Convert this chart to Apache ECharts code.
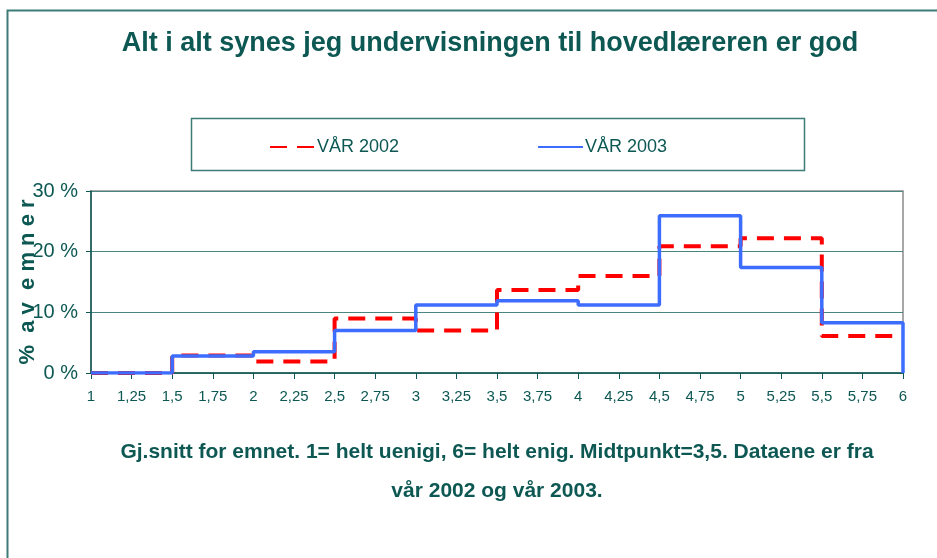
<!DOCTYPE html>
<html>
<head>
<meta charset="utf-8">
<script src="https://cdn.jsdelivr.net/npm/echarts@6/dist/echarts.min.js"></script>
<style>
  html, body { margin: 0; padding: 0; background: #fff; }
  #chart { width: 937px; height: 558px; }
</style>
</head>
<body>
<div id="chart"></div>
<script>
// bin starts (gjennomsnitt), each bin is 0,5 wide, last bin ends at 6
const binStarts = [1, 1.5, 2, 2.5, 3, 3.5, 4, 4.5, 5, 5.5];
const binEnd = 6;
// % av emner per bin
const vaar2002 = [0, 2.9, 1.9, 9.0, 7.0, 13.7, 16.0, 20.9, 22.2, 6.1];
const vaar2003 = [0, 2.8, 3.5, 7.0, 11.2, 11.9, 11.2, 25.9, 17.4, 8.3];
const seriesNames = ["VÅR 2002", "VÅR 2003"];
const yTicks = [0, 10, 20, 30];

const teal = "#0d5853";
const font = "'Liberation Sans Narrow', 'Liberation Sans', Arial, sans-serif";

// step line: points on bin starts, plus closing point at x=6
function stepData(vals, endVal) {
  const pts = binStarts.map((x, i) => [x, vals[i]]);
  pts.push([binEnd, endVal]);
  return pts;
}

const chart = echarts.init(document.getElementById("chart"));
chart.setOption({
  animation: false,
  backgroundColor: "#fff",
  textStyle: { fontFamily: font },
  title: [
    {
      text: "Alt i alt synes jeg undervisningen til hovedlæreren er god",
      left: 485, top: 25, textAlign: "center",
      textStyle: { fontFamily: font, fontSize: 27, fontWeight: "bold", color: teal }
    },
    {
      text: "Gj.snitt for emnet. 1= helt uenigi, 6= helt enig. Midtpunkt=3,5. Dataene er fra\nvår 2002 og vår 2003.",
      left: 492, top: 428, textAlign: "center",
      textStyle: { fontFamily: font, fontSize: 21, fontWeight: "bold", color: teal, lineHeight: 39 }
    }
  ],
  graphic: [
    // outer frame (runs off the right and bottom edge)
    { type: "rect", shape: { x: 7.5, y: 10.5, width: 1000, height: 700 },
      style: { fill: "none", stroke: "#3d7b76", lineWidth: 2 } },
    // legend frame
    { type: "rect", shape: { x: 191.5, y: 118.5, width: 613, height: 52 },
      style: { fill: "none", stroke: "#3d7b76", lineWidth: 1.5 } }
  ],
  legend: {
    data: seriesNames,
    left: 264, top: 133,
    itemWidth: 45, itemHeight: 12, itemGap: 138,
    itemStyle: { opacity: 0 },
    textStyle: { fontFamily: font, fontSize: 18, color: teal, padding: [0, 0, 0, -3] }
  },
  grid: {
    left: 91, right: 34, top: 191, bottom: 185,
    outerBoundsMode: "none", containLabel: false,
    show: true, borderColor: "#8c8c8c", borderWidth: 1.5, backgroundColor: "transparent"
  },
  xAxis: {
    type: "value", min: 1, max: 6, interval: 0.25,
    axisLine: { show: true, onZero: false, lineStyle: { color: teal, width: 1.5 } },
    axisTick: { show: true, length: 6, lineStyle: { color: teal } },
    splitLine: { show: false },
    axisLabel: {
      margin: 16, fontSize: 15, color: teal, fontFamily: font,
      formatter: v => String(v).replace(".", ",")
    }
  },
  yAxis: {
    type: "value", min: 0, max: 30, interval: 10,
    name: "%  a v  e m n e r",
    nameLocation: "middle", nameGap: 52, nameRotate: 90, nameMoveOverlap: false,
    nameTextStyle: { fontFamily: font, fontSize: 22, fontWeight: "bold", color: teal },
    axisLine: { show: true, lineStyle: { color: teal, width: 1.5 } },
    axisTick: { show: true, length: 5, lineStyle: { color: teal } },
    splitLine: { show: true, lineStyle: { color: "#4a8580", width: 1 } },
    axisLabel: {
      margin: 13, fontSize: 20, color: teal, fontFamily: font,
      formatter: v => yTicks.includes(v) ? v + " %" : ""
    }
  },
  series: [
    {
      name: seriesNames[0], type: "line", step: "end",
      data: stepData(vaar2002, vaar2002[vaar2002.length - 1]),
      symbol: "none", z: 2,
      itemStyle: { color: "#ff0000" },
      lineStyle: { color: "#ff0000", width: 4, type: [17, 10] }
    },
    {
      name: seriesNames[1], type: "line", step: "end",
      data: stepData(vaar2003, 0),
      symbol: "none", z: 3,
      itemStyle: { color: "#3d6dff" },
      lineStyle: { color: "#3d6dff", width: 3.5 }
    }
  ]
});
</script>
</body>
</html>
